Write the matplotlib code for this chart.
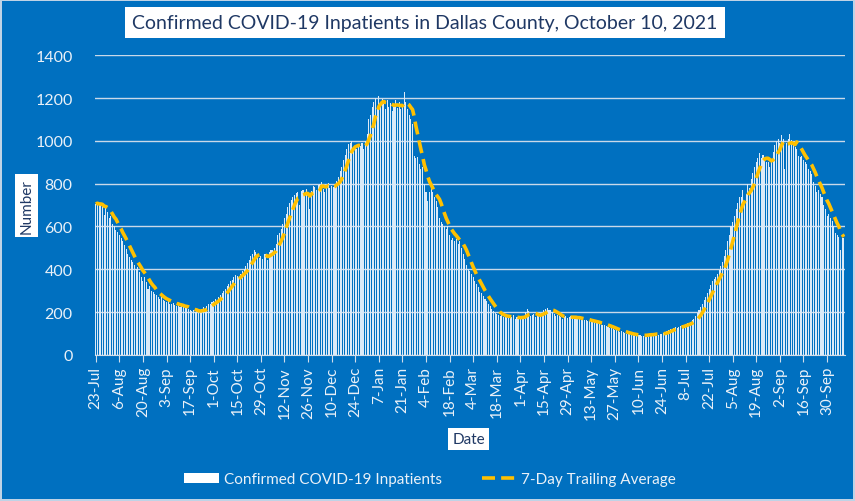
import numpy as np
import pandas as pd
import matplotlib
matplotlib.use("Agg")
import matplotlib.pyplot as plt
from matplotlib.lines import Line2D
from matplotlib.patches import Patch

# daily confirmed COVID-19 inpatients, 23-Jul-2020 .. 10-Oct-2021 (one row per week)
inpatients = [
    705, 712, 698, 706, 695, 652, 684,
    668, 640, 650, 612, 600, 585, 572,
    560, 548, 530, 512, 495, 470, 458,
    445, 432, 418, 400, 410, 388, 365,
    345, 362, 340, 310, 322, 300, 294,
    286, 280, 270, 262, 272, 256, 250,
    248, 252, 240, 236, 244, 232, 228,
    238, 226, 230, 222, 218, 224, 214,
    210, 206, 212, 200, 204, 198, 206,
    215, 222, 218, 230, 236, 240, 248,
    252, 262, 258, 270, 282, 290, 298,
    310, 322, 330, 345, 350, 362, 372,
    368, 362, 380, 392, 402, 415, 430,
    445, 462, 470, 490, 482, 468, 455,
    460, 448, 472, 470, 445, 480, 490,
    490, 500, 520, 560, 570, 590, 610,
    640, 660, 690, 710, 725, 740, 745,
    755, 760, 700, 765, 770, 758, 775,
    748, 680, 765, 790, 785, 770, 795,
    800, 810, 775, 760, 790, 805, 780,
    790, 785, 800, 812, 830, 860, 880,
    910, 935, 960, 985, 990, 1000, 960,
    975, 960, 985, 975, 990, 960, 1000,
    1030, 1100, 1120, 1160, 1180, 1200, 1150,
    1210, 1170, 1195, 1180, 1150, 1190, 1160,
    1175, 1140, 1165, 1190, 1155, 1180, 1150,
    1165, 1230, 1180, 1150, 1120, 1100, 1080,
    930, 920, 925, 890, 870, 880, 800,
    760, 720, 760, 780, 760, 740, 720,
    690, 640, 620, 610, 600, 590, 600,
    560, 535, 545, 530, 540, 520, 530,
    500, 470, 450, 420, 400, 390, 380,
    365, 345, 330, 315, 295, 290, 275,
    262, 250, 240, 228, 215, 205, 195,
    190, 185, 180, 185, 178, 182, 175,
    180, 172, 176, 185, 170, 175, 168,
    172, 178, 180, 200, 215, 205, 180,
    185, 190, 178, 182, 188, 195, 200,
    210, 215, 218, 212, 208, 200, 190,
    180, 185, 180, 178, 170, 175, 180,
    172, 178, 182, 176, 170, 174, 168,
    172, 165, 170, 162, 165, 158, 160,
    155, 152, 158, 150, 148, 145, 140,
    142, 138, 135, 130, 128, 125, 120,
    118, 115, 112, 108, 110, 105, 102,
    100, 98, 96, 95, 92, 94, 90,
    92, 95, 90, 88, 92, 95, 98,
    100, 96, 94, 98, 100, 95, 100,
    98, 104, 108, 112, 118, 120, 122,
    125, 130, 128, 132, 135, 138, 140,
    145, 150, 148, 155, 162, 170, 180,
    195, 210, 225, 240, 255, 270, 290,
    310, 325, 345, 355, 365, 380, 395,
    415, 435, 460, 490, 530, 560, 600,
    620, 650, 680, 710, 740, 740, 770,
    720, 750, 800, 780, 820, 850, 880,
    900, 920, 945, 920, 935, 910, 900,
    900, 880, 900, 950, 980, 1000, 1010,
    990, 1025, 1010, 870, 990, 1010, 1030,
    1005, 1000, 970, 960, 930, 925, 930,
    910, 900, 890, 870, 860, 845, 810,
    790, 760, 770, 750, 740, 700, 680,
    650, 660, 640, 625, 600, 570, 560,
    550, 490, 545, 545,
]

dates = pd.date_range("2020-07-23", periods=len(inpatients), freq="D")
avg7 = pd.Series(inpatients).rolling(7, min_periods=1).mean()

tick_idx = list(range(0, len(dates), 14))
tick_labels = [f"{dates[i].day}-{dates[i].strftime('%b')}" for i in tick_idx]

plt.rcParams["font.family"] = ["Lato", "DejaVu Sans"]
blue = "#0070C0"
navy = "#1F3864"
light = "#EAF1F8"

fig = plt.figure(figsize=(8.55, 5.02), dpi=100, facecolor=blue,
                 edgecolor="#BFD3E6", linewidth=1.5)
ax = fig.add_axes([0.111, 0.291, 0.877, 0.597])
ax.set_facecolor(blue)

x = np.arange(len(inpatients))
ax.bar(x, inpatients, width=0.62, color="#DCEAF7", linewidth=0, zorder=2)
ax.plot(x, avg7, color="#FFC000", lw=2.6, dashes=(3.6, 1.7), zorder=3)

ax.set_xlim(-0.5, len(inpatients) - 0.5)
ax.set_ylim(0, 1400)
ax.set_yticks(range(0, 1401, 200))
ax.set_xticks(tick_idx)
ax.set_xticklabels(tick_labels, rotation=90)
ax.grid(axis="y", color="#C9D9E9", lw=1, zorder=1)
for s in ["top", "right", "left"]:
    ax.spines[s].set_visible(False)
ax.spines["bottom"].set_color("#D0DDEA")
ax.tick_params(axis="y", length=0, pad=16, colors=light, labelsize=11.5)
ax.tick_params(axis="x", length=5, color="#D0DDEA", colors=light, labelsize=11, pad=3)

fig.text(0.497, 0.953, "Confirmed COVID-19 Inpatients in Dallas County, October 10, 2021",
         ha="center", va="center", fontsize=14, color=navy,
         bbox=dict(facecolor="white", edgecolor="none", pad=5))
fig.text(0.031, 0.588, "Number", rotation=90, ha="center", va="center", fontsize=11,
         color=navy, bbox=dict(facecolor="white", edgecolor="none", pad=3))
fig.text(0.548, 0.124, "Date", ha="center", va="center", fontsize=11,
         color=navy, bbox=dict(facecolor="white", edgecolor="none", pad=3))

handles = [Patch(facecolor="white", edgecolor="none"),
           Line2D([0], [0], color="#FFC000", lw=2.6, dashes=(3.6, 1.7))]
leg = fig.legend(handles, ["Confirmed COVID-19 Inpatients", "7-Day Trailing Average"],
                 loc="center", bbox_to_anchor=(0.503, 0.043), ncol=2, frameon=False,
                 fontsize=11, labelcolor=light, handlelength=2.3, handletextpad=0.3,
                 columnspacing=2.6)

fig.savefig("out.png", dpi=100, facecolor=blue, edgecolor="#BFD3E6")
